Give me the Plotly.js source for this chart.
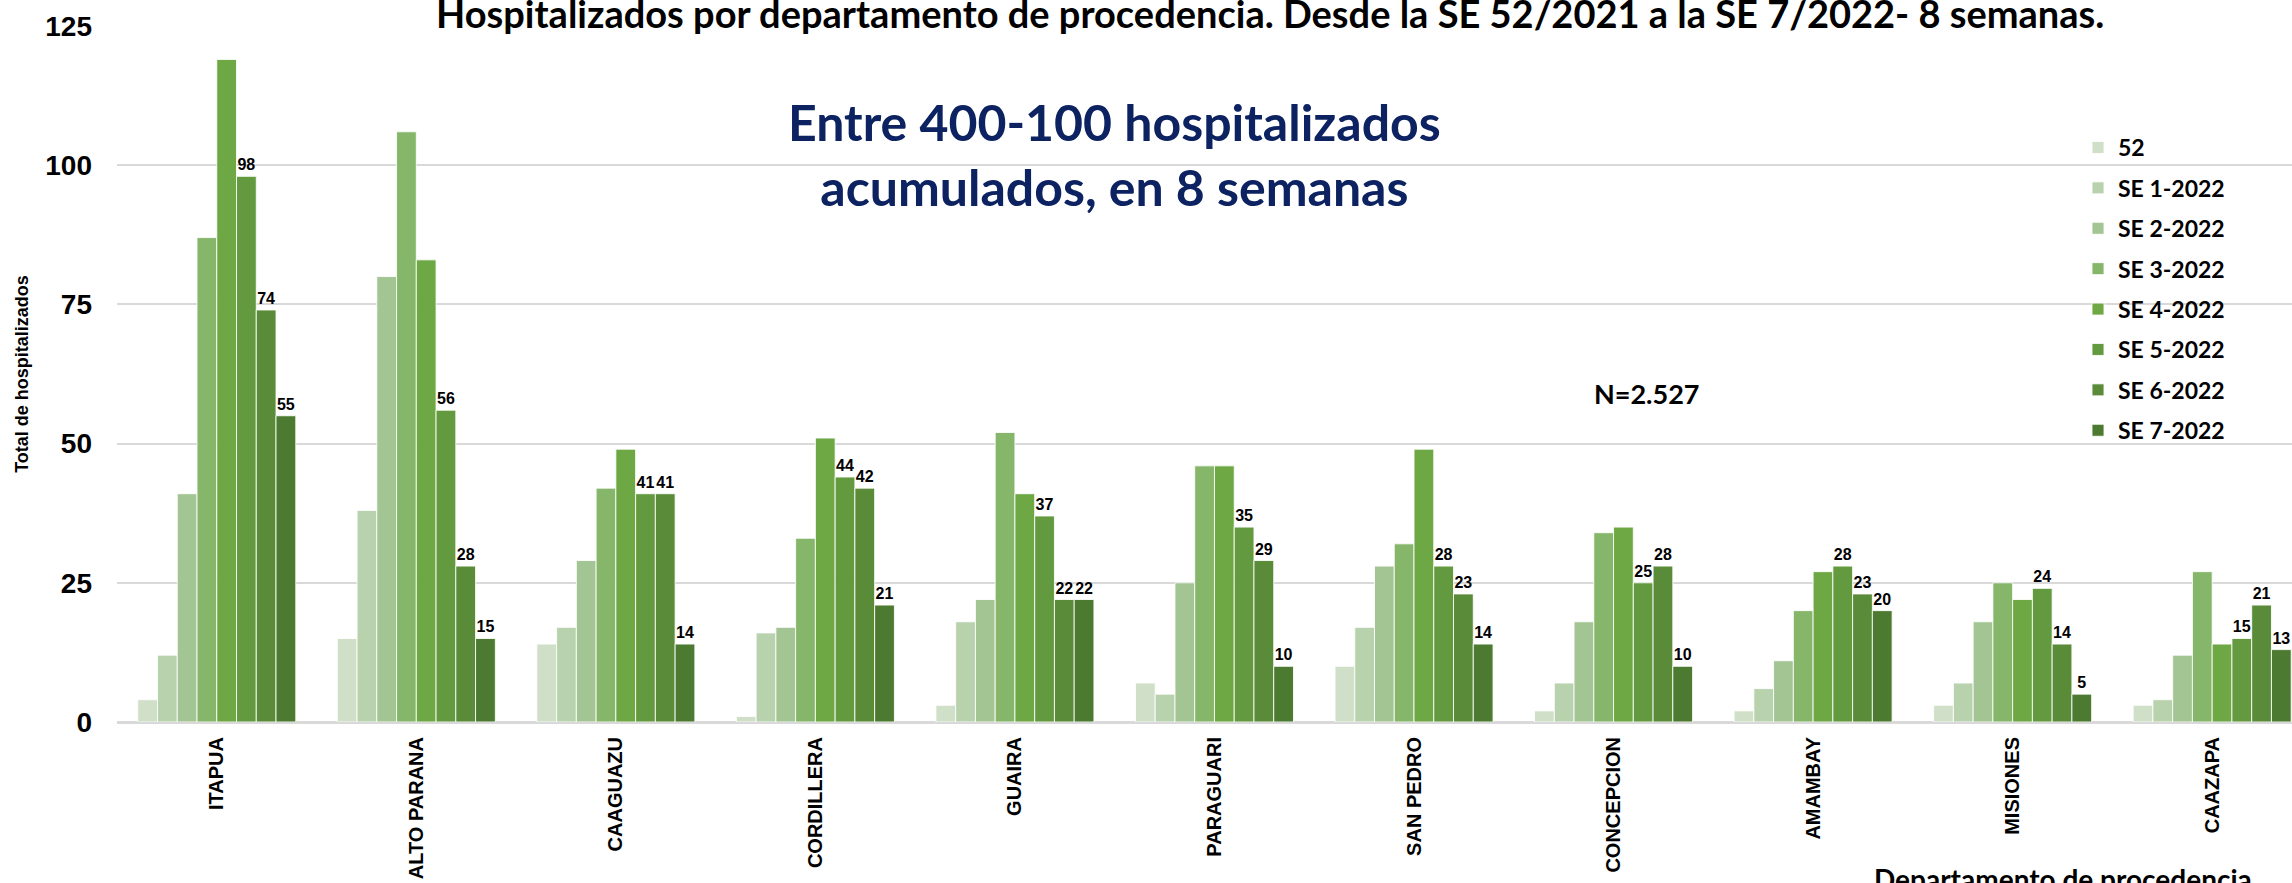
<!DOCTYPE html>
<html>
<head>
<meta charset="utf-8">
<script src="https://cdn.plot.ly/plotly-3.0.1.min.js"></script>
<style>
html,body{margin:0;padding:0;background:#fff;overflow:hidden;}
#chart{width:2292px;height:883px;}
</style>
</head>
<body>
<div id="chart"></div>
<script>
// ---- data ----
const departamentos = ['ITAPUA','ALTO PARANA','CAAGUAZU','CORDILLERA','GUAIRA','PARAGUARI','SAN PEDRO','CONCEPCION','AMAMBAY','MISIONES','CAAZAPA'];
const seriesNames = ['52','SE 1-2022','SE 2-2022','SE 3-2022','SE 4-2022','SE 5-2022','SE 6-2022','SE 7-2022'];
const se52_2021 = [4,15,14,1,3,7,10,2,2,3,3];
const se1_2022  = [12,38,17,16,18,5,17,7,6,7,4];
const se2_2022  = [41,80,29,17,22,25,28,18,11,18,12];
const se3_2022  = [87,106,42,33,52,46,32,34,20,25,27];
const se4_2022  = [119,83,49,51,41,46,49,35,27,22,14];
const se5_2022  = [98,56,41,44,37,35,28,25,28,24,15];
const se6_2022  = [74,28,41,42,22,29,23,28,23,14,21];
const se7_2022  = [55,15,14,21,22,10,14,10,20,5,13];
const labelledSeries = ['SE 5-2022','SE 6-2022','SE 7-2022'];
const yTicks = [0,25,50,75,100,125];

// ---- styles ----
const colors = ['#d0dfc7','#b8d2ad','#a3c593','#85b66a','#6ea844','#639a3f','#5a8b39','#4c7a30'];
const values = [se52_2021,se1_2022,se2_2022,se3_2022,se4_2022,se5_2022,se6_2022,se7_2022];
const narrow = '"Liberation Sans Narrow", "Arial Narrow", "Liberation Sans", Arial, sans-serif';
const arial = '"Liberation Sans", Arial, sans-serif';
const cal = 'Lato, "Open Sans", sans-serif';

const traces = values.map((v,i)=>({
  type:'bar',
  name:seriesNames[i],
  x:departamentos,
  y:v,
  legendgroup:'g'+i,
  marker:{color:colors[i], line:{color:'rgba(255,255,255,0.85)', width:1}},
  text: labelledSeries.includes(seriesNames[i]) ? v.map(String) : undefined,
  textposition: labelledSeries.includes(seriesNames[i]) ? 'outside' : 'none',
  textfont:{family:narrow, size:16, color:'#000', weight:'bold'},
  constraintext:'none',
  cliponaxis:false,
  hoverinfo:'x+y+name'
}));

const L = 117, R = 0, T = 26, B = 161;
const W = 2292, H = 883;
const pw = W-L-R, ph = H-T-B;
const px2x = p => (p-L)/pw;
const py2y = p => (H-B-p)/ph;

const layout = {
  width:W, height:H,
  margin:{l:L, r:R, t:T, b:B, pad:0},
  paper_bgcolor:'#fff', plot_bgcolor:'#fff',
  barmode:'group', bargap:0.208, bargroupgap:0,
  showlegend:true,
  legend:{
    x:px2x(2078), y:py2y(126), xanchor:'left', yanchor:'top',
    font:{family:cal, size:23, color:'#000', weight:'bold'},
    tracegroupgap:7.5, bgcolor:'rgba(0,0,0,0)', itemwidth:30
  },
  xaxis:{
    type:'category', range:[-0.5,10.4], tickangle:-90,
    tickfont:{family:arial, size:20, color:'#000', weight:'bold'},
    showgrid:false, zeroline:false, showline:false, ticks:'',
    ticklabelstandoff:10, automargin:false
  },
  yaxis:{
    range:[0,125], tickvals:yTicks, ticktext:yTicks.map(String),
    tickfont:{family:narrow, size:28, color:'#000', weight:'bold'},
    showgrid:true, gridcolor:'#d9d9d9', gridwidth:2,
    zeroline:true, zerolinecolor:'#d9d9d9', zerolinewidth:3,
    showline:false, ticks:'', ticklabelstandoff:24, automargin:false,
    title:{text:'Total de hospitalizados', font:{family:arial, size:18, color:'#000', weight:'bold'}, standoff:11}
  },
  annotations:[
    {text:'Hospitalizados por departamento de procedencia. Desde la SE 52/2021 a la SE 7/2022- 8 semanas.',
     xref:'paper', yref:'paper', x:px2x(1270), y:py2y(13), xanchor:'center', yanchor:'middle', showarrow:false,
     font:{family:cal, size:38, color:'#000', weight:'bold'}},
    {text:'Entre 400-100 hospitalizados<br>acumulados, en 8 semanas',
     xref:'paper', yref:'paper', x:px2x(1114), y:py2y(155), xanchor:'center', yanchor:'middle', showarrow:false,
     align:'center', font:{family:cal, size:50, color:'#0c2261', weight:'bold'}},
    {text:'N=2.527', xref:'paper', yref:'paper', x:px2x(1647), y:py2y(393), xanchor:'center', yanchor:'middle', showarrow:false,
     font:{family:cal, size:27, color:'#000', weight:'bold'}},
    {text:'Departamento de procedencia', xref:'paper', yref:'paper', x:px2x(2063), y:py2y(860), xanchor:'center', yanchor:'top', showarrow:false,
     font:{family:cal, size:28, color:'#000', weight:'bold'}}
  ]
};

Plotly.newPlot('chart', traces, layout, {displayModeBar:false, responsive:false});
</script>
</body>
</html>
